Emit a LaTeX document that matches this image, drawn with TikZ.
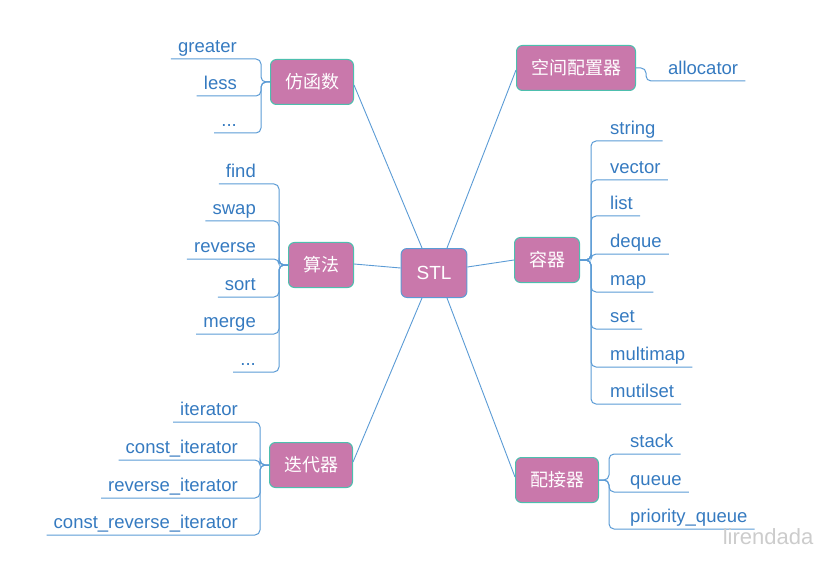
\documentclass[tikz,border=0pt]{standalone}
\usepackage{fontspec}
\setmainfont{Liberation Sans}
\newfontfamily\cjk{Noto Sans CJK SC}
\definecolor{boxpink}{HTML}{C978AB}
\definecolor{boxedge}{HTML}{4DBFAE}
\definecolor{stledge}{HTML}{5B9BD5}
\definecolor{linkblue}{HTML}{5B9BD5}
\definecolor{leaftext}{HTML}{357AC0}
\begin{document}
\begin{tikzpicture}[x=1bp,y=-1bp,
  topic/.style={rounded corners=6bp, fill=boxpink, draw=boxedge, line width=1bp,
    text=white, inner xsep=14.5bp, inner ysep=0pt, minimum height=45bp,
    font=\cjk\fontsize{18bp}{20bp}\selectfont},
  central/.style={rounded corners=6bp, fill=boxpink, draw=stledge, line width=1bp,
    text=white, inner xsep=15.5bp, inner ysep=0pt, minimum height=49bp,
    font=\fontsize{19bp}{21bp}\selectfont},
  leaf/.style={text=leaftext, inner xsep=7bp, inner ysep=0.5bp,
    font=\fontsize{18.5bp}{20bp}\selectfont},
  leafL/.style={leaf, anchor=south east},
  leafR/.style={leaf, anchor=south west},
  link/.style={draw=linkblue, line width=0.9bp},
  branch/.style={draw=linkblue, line width=1bp, rounded corners=5bp}
]
\useasboundingbox (0,0) rectangle (836,563);

% central and topics
\node[central] (stl) at (434,273) {STL};
\node[topic] (fh) at (312,82) {仿函数};
\node[topic] (sf) at (321,265) {算法};
\node[topic] (ddq) at (311,465) {迭代器};
\node[topic] (kj) at (576,68) {空间配置器};
\node[topic] (rq) at (547,260) {容器};
\node[topic] (pj) at (557,480) {配接器};

% central connectors
\draw[link] ([xshift=-12bp]stl.north) -- ([yshift=-3bp]fh.east);
\draw[link] ([yshift=5bp]stl.west) -- ([yshift=1bp]sf.east);
\draw[link] ([xshift=-12bp]stl.south) -- ([yshift=3bp]ddq.east);
\draw[link] ([xshift=13bp]stl.north) -- ([yshift=-2bp]kj.west);
\draw[link] ([yshift=6bp]stl.east) -- (rq.west);
\draw[link] ([xshift=13bp]stl.south) -- ([yshift=3bp]pj.west);

% 仿函数 leaves
\node[leafL] (f1) at (244,59) {\strut greater};
\node[leafL] (f2) at (244,96) {\strut less};
\node[leafL] (f3) at (244,133) {\strut ...};
\foreach \n in {f1,f2,f3}
  \draw[branch] (\n.south west) -| ([xshift=-9bp]fh.west) -- (fh.west);

% 算法 leaves
\node[leafL] (a1) at (263,184) {\strut find};
\node[leafL] (a2) at (263,221) {\strut swap};
\node[leafL] (a3) at (263,259) {\strut reverse};
\node[leafL] (a4) at (263,297) {\strut sort};
\node[leafL] (a5) at (263,334) {\strut merge};
\node[leafL] (a6) at (263,372) {\strut ...};
\foreach \n in {a1,a2,a3,a4,a5,a6}
  \draw[branch] (\n.south west) -| ([xshift=-9bp]sf.west) -- (sf.west);

% 迭代器 leaves
\node[leafL] (d1) at (245,422) {\strut iterator};
\node[leafL] (d2) at (245,460) {\strut const\_iterator};
\node[leafL] (d3) at (245,498) {\strut reverse\_iterator};
\node[leafL] (d4) at (245,535) {\strut const\_reverse\_iterator};
\foreach \n in {d1,d2,d3,d4}
  \draw[branch] (\n.south west) -| ([xshift=-9bp]ddq.west) -- (ddq.west);

% 空间配置器 leaf
\node[leafR] (k1) at (661,81) {\strut allocator};
\draw[branch] (kj.east) -- ([xshift=10bp]kj.east) |- (k1.south east);

% 容器 leaves
\node[leafR] (r1) at (603,141) {\strut string};
\node[leafR] (r2) at (603,180) {\strut vector};
\node[leafR] (r3) at (603,216) {\strut list};
\node[leafR] (r4) at (603,254) {\strut deque};
\node[leafR] (r5) at (603,292) {\strut map};
\node[leafR] (r6) at (603,329) {\strut set};
\node[leafR] (r7) at (603,367) {\strut multimap};
\node[leafR] (r8) at (603,404) {\strut mutilset};
\foreach \n in {r1,r2,r3,r4,r5,r6,r7,r8}
  \draw[branch] (rq.east) -- ([xshift=11bp]rq.east) |- (\n.south east);

% 配接器 leaves
\node[leafR] (p1) at (623,454) {\strut stack};
\node[leafR] (p2) at (623,492) {\strut queue};
\node[leafR] (p3) at (623,529) {\strut priority\_queue};
\foreach \n in {p1,p2,p3}
  \draw[branch] (pj.east) -- ([xshift=10bp]pj.east) |- (\n.south east);

% watermark
\node[text=gray!40, font=\fontsize{22bp}{24bp}\selectfont, anchor=center] (wm) at (768,537) {lirendada};
\end{tikzpicture}
\end{document}
